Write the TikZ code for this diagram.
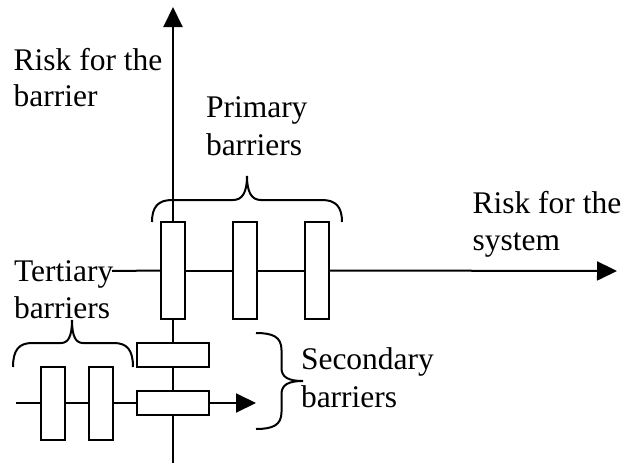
\documentclass[tikz,border=0pt]{standalone}
\usepackage{fontspec}
\setmainfont{Liberation Serif}
\usetikzlibrary{arrows.meta}
\begin{document}
\begin{tikzpicture}[x=1pt,y=-1pt,
  line width=2pt,
  axisarrow/.style={-{Triangle[length=20pt,width=19pt]}},
  vbar/.style={draw,fill=white,rectangle,inner sep=0pt,minimum width=24pt,minimum height=97pt},
  hbar/.style={draw,fill=white,rectangle,inner sep=0pt,minimum width=72pt,minimum height=24pt},
  tbar/.style={draw,fill=white,rectangle,inner sep=0pt,minimum width=24pt,minimum height=73pt},
  lbl/.style={anchor=base west,inner sep=0pt,font=\fontsize{31.5}{37}\selectfont},
  bracepath/.style={line width=2pt}]
\useasboundingbox (0,0) rectangle (621,463);

% axis end points
\coordinate (vtop) at (173,7);
\coordinate (vbot) at (173,463);
\coordinate (hstart) at (112,271);
\coordinate (hend) at (617,271);
\coordinate (lstart) at (16,403);
\coordinate (lend) at (256,403);

% barriers
\node[vbar] (p1) at (173,270.5) {};
\node[vbar] (p2) at (245,270.5) {};
\node[vbar] (p3) at (317,270.5) {};
\node[hbar] (s1) at (173,355) {};
\node[hbar] (s2) at (173,403) {};
\node[tbar] (t1) at (53,403) {};
\node[tbar] (t2) at (101,403) {};

% risk for the system
\draw (hstart) -- (p1.west);
\draw (p1.east) -- (p2.west);
\draw (p2.east) -- (p3.west);
\draw[axisarrow] (p3.east) -- (hend);

% risk for the barrier
\draw (vbot) -- (s2.south);
\draw (s2.north) -- (s1.south);
\draw (s1.north) -- (p1.south);
\draw[axisarrow] (p1.north) -- (vtop);

% lower chain
\draw (lstart) -- (t1.west);
\draw (t1.east) -- (t2.west);
\draw (t2.east) -- (s2.west);
\draw[axisarrow] (s2.east) -- (lend);

% braces
\draw[bracepath] (152,222) .. controls (152,207) and (158,200) .. (172,200) -- (233,200)
  .. controls (242,200) and (247,193) .. (247,176)
  .. controls (247,193) and (252,200) .. (261,200) -- (322,200)
  .. controls (336,200) and (342,207) .. (342,222);
\draw[bracepath] (13,367) .. controls (13,350) and (19,343) .. (32,343) -- (61,343)
  .. controls (68,343) and (72,337) .. (72,320)
  .. controls (72,337) and (76,343) .. (83,343) -- (114,343)
  .. controls (127,343) and (133,350) .. (133,367);
\draw[bracepath] (256,333) .. controls (273,333) and (281.5,337) .. (281.5,350) -- (281.5,368)
  .. controls (281.5,377) and (288,381) .. (303,381)
  .. controls (288,381) and (281.5,385) .. (281.5,394) -- (281.5,412)
  .. controls (281.5,425) and (273,429) .. (256,429);

% labels
\node[lbl] (rb1) at (12.7,70) {Risk for the};
\node[lbl] (rb2) at (12.7,106.7) {barrier};
\node[lbl] (pr1) at (205,117.5) {Primary};
\node[lbl] (pr2) at (205,155) {barriers};
\node[lbl] (rs1) at (471.5,213) {Risk for the};
\node[lbl] (rs2) at (471.5,250) {system};
\node[lbl] (te1) at (13,281) {Tertiary};
\node[lbl] (te2) at (13,318) {barriers};
\node[lbl] (se1) at (300,369) {Secondary};
\node[lbl] (se2) at (300,407) {barriers};
\end{tikzpicture}
\end{document}
